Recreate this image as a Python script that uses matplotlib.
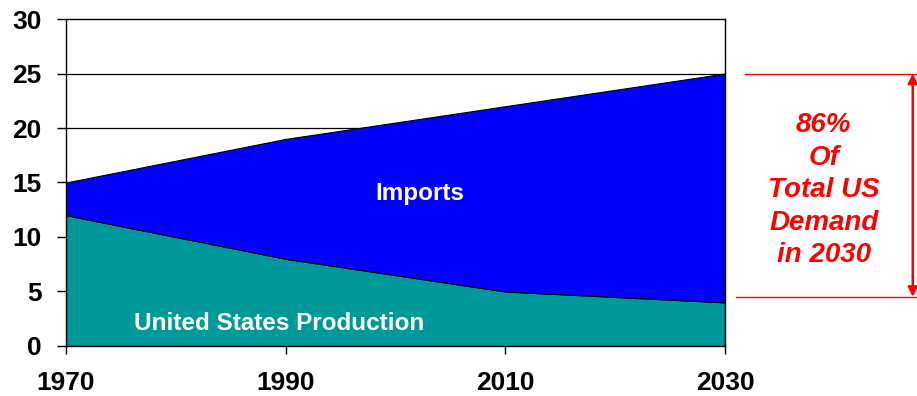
import numpy as np
import matplotlib
matplotlib.use('Agg')
import matplotlib.pyplot as plt

# Daten (Millionen Barrel pro Tag)
years = [1970, 1990, 2010, 2030]
production = [12, 8, 5, 4]
imports = [3, 11, 17, 21]
y_ticks = [0, 5, 10, 15, 20, 25, 30]
note = '86%\nOf\nTotal US\nDemand\nin 2030'

plt.rcParams['font.family'] = ['Liberation Sans', 'DejaVu Sans']

fig = plt.figure(figsize=(9.17, 3.96), dpi=100)
ax = fig.add_axes([0.072, 0.1263, 0.7186, 0.8257])

total = np.array(production) + np.array(imports)

# Gitterlinien hinter den Flächen
for yv in y_ticks[1:-1]:
    ax.axhline(yv, color='black', linewidth=0.9, zorder=0)

ax.stackplot(years, production, imports, colors=['#009999', '#0000ff'],
             edgecolor='black', linewidth=0.8, zorder=1)

ax.set_xlim(1970, 2030)
ax.set_ylim(0, 30)
ax.set_xticks(years)
ax.set_yticks(y_ticks)
for s in ax.spines.values():
    s.set_linewidth(1.0)

ax.tick_params(axis='y', direction='out', length=6.5, width=1, pad=11, labelsize=19)
ax.tick_params(axis='x', direction='out', length=6, width=1, pad=12, labelsize=19)
for lab in ax.get_xticklabels() + ax.get_yticklabels():
    lab.set_fontweight('bold')

ax.text(2002.2, 14.0, 'Imports', color='white', fontsize=17.5, fontweight='bold',
        ha='center', va='center', zorder=3)
ax.text(1989.4, 2.1, 'United States Production', color='white', fontsize=17.5,
        fontweight='bold', ha='center', va='center', zorder=3)

# Anmerkung rechts
ax.plot([2031.8, 2047.8], [total[-1], total[-1]], color='red', linewidth=1,
        clip_on=False)
ax.plot([2031.0, 2047.8], [4.5, 4.5], color='red', linewidth=1, clip_on=False)
ax.annotate('', xy=(2047.1, total[-1]), xytext=(2047.1, 4.5),
            arrowprops=dict(arrowstyle='<|-|>', color='red', lw=1.8,
                            mutation_scale=14, shrinkA=0, shrinkB=0),
            annotation_clip=False)
ax.text(2039.0, 14.3, note, color='red',
        fontsize=20, fontweight='bold', fontstyle='italic', ha='center',
        va='center', linespacing=1.32, clip_on=False)

fig.savefig('out.png', dpi=100)
